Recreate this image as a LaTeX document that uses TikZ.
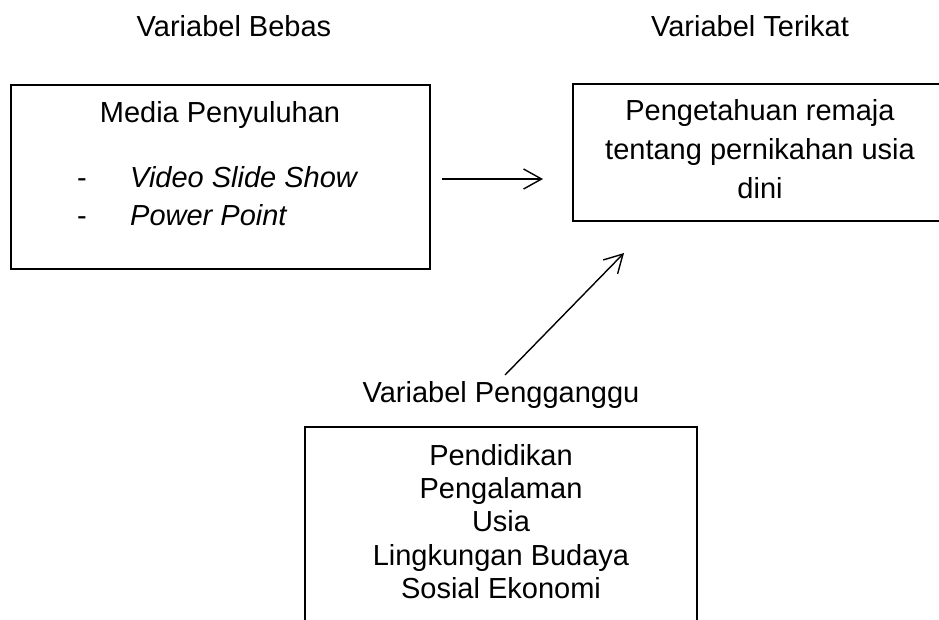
\documentclass[tikz,border=0pt]{standalone}
\usepackage{fontspec}
\setmainfont{Liberation Sans}
\usetikzlibrary{arrows.meta}
\begin{document}
\begin{tikzpicture}[x=1pt,y=-1pt,
  box/.style={draw=black,line width=1.2pt,rectangle,inner sep=0pt,outer sep=0pt,anchor=north west},
  txt/.style={inner sep=0pt,anchor=base,font=\fontsize{29}{33}\selectfont},
  arr/.style={line width=1.4pt,-{Straight Barb[length=18pt,width=20pt,line width=1.4pt]}}]
\useasboundingbox (0,0) rectangle (939,619);
% headers
\node[txt] (hb) at (234,36) {Variabel Bebas};
\node[txt] (ht) at (750,36) {Variabel Terikat};
% boxes
\node[box,minimum width=419pt,minimum height=184pt] (mp) at (11,85) {};
\node[box,minimum width=380pt,minimum height=137pt] (pg) at (573,84) {};
\node[box,minimum width=392pt,minimum height=250pt] (pp) at (305,427) {};
% left box text
\node[txt] (mp1) at (220,122) {Media Penyuluhan};
\node[txt] (d1) at (82,187) {-};
\node[txt] (d2) at (82,225) {-};
\node[txt,anchor=base west] (mp2) at (130,187) {\itshape Video Slide Show};
\node[txt,anchor=base west] (mp3) at (130,225) {\itshape Power Point};
% right box text
\node[txt] (pg1) at (760,120) {Pengetahuan remaja};
\node[txt] (pg2) at (760,159) {tentang pernikahan usia};
\node[txt] (pg3) at (760,198) {dini};
% confounder label
\node[txt] (vp) at (501,402) {Variabel Pengganggu};
% bottom box text
\node[txt] (pp1) at (501,465) {Pendidikan};
\node[txt] (pp2) at (501,498) {Pengalaman};
\node[txt] (pp3) at (501,531) {Usia};
\node[txt] (pp4) at (501,565) {Lingkungan Budaya};
\node[txt] (pp5) at (501,598) {Sosial Ekonomi};
% arrows
\coordinate (a1) at (442,179);
\coordinate (a2) at (543,179);
\coordinate (b1) at (505,375);
\coordinate (b2) at (624,253);
\draw[arr] (a1) -- (a2);
\draw[arr] (b1) -- (b2);
\end{tikzpicture}
\end{document}
